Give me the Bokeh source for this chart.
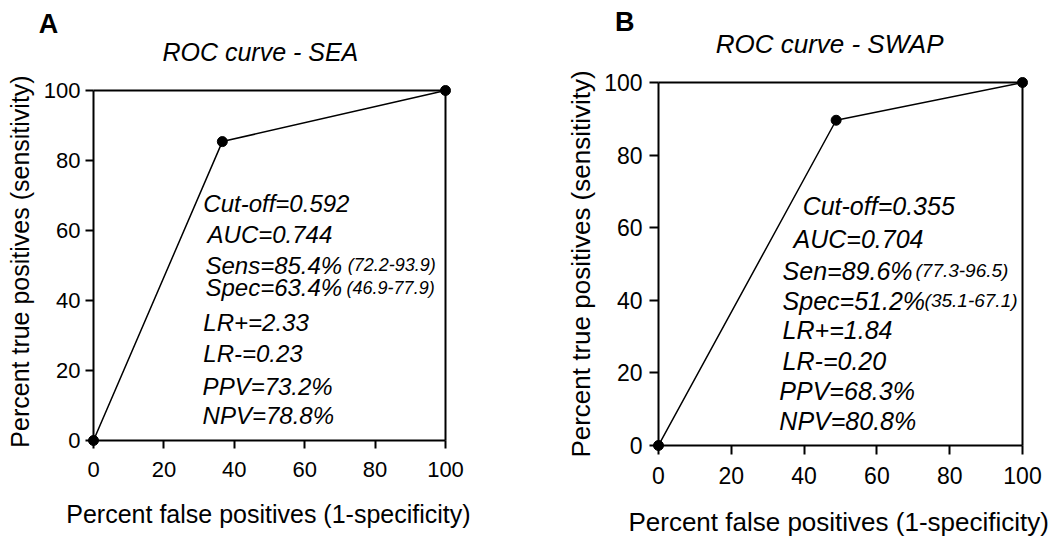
from bokeh.plotting import figure
from bokeh.layouts import row, column
from bokeh.models import Range1d, FixedTicker
from bokeh.core.properties import value
from bokeh.embed import file_html
from bokeh.resources import INLINE

FONT = "Liberation Sans"

# ---------------- data ----------------
ticks = [0, 20, 40, 60, 80, 100]

sea_fpr = [0, 36.6, 100]
sea_tpr = [0, 85.4, 100]
sea_stats = ["Cut-off=0.592", "AUC=0.744", "Sens=85.4%", "Spec=63.4%",
             "LR+=2.33", "LR-=0.23", "PPV=73.2%", "NPV=78.8%"]
sea_ci = ["(72.2-93.9)", "(46.9-77.9)"]

swap_fpr = [0, 48.8, 100]
swap_tpr = [0, 89.6, 100]
swap_stats = ["Cut-off=0.355", "AUC=0.704", "Sen=89.6%", "Spec=51.2%",
              "LR+=1.84", "LR-=0.20", "PPV=68.3%", "NPV=80.8%"]
swap_ci = ["(77.3-96.5)", "(35.1-67.1)"]

x_label = "Percent false positives (1-specificity)"
y_label = "Percent true positives (sensitivity)"

# ---------------- layout (positions in data units) ----------------
sea_text_x = [31.2, 32.4, 31.8, 31.8, 31.2, 31.2, 31.0, 31.0]
sea_text_y = [67.7, 58.9, 50.1, 43.6, 33.6, 24.9, 15.4, 7.1]
sea_ci_x = [72.2, 71.9]
sea_ci_y = [50.1, 43.6]
sea_xlabel_pos = (49.7, -20.9)

swap_text_x = [39.6, 37.1, 34.1, 34.1, 34.1, 34.1, 33.2, 33.2]
swap_text_y = [65.9, 56.9, 48.1, 39.9, 31.9, 23.2, 14.9, 6.7]
swap_ci_x = [70.6, 73.1]
swap_ci_y = [48.1, 39.9]
swap_xlabel_pos = (49.5, -21.2)

FRAME_TOP = 82
BOTTOM_BORDER = 91


def make_panel(fpr, tpr, stats, ci, tx, ty, cx, cy, title, letter,
               title_pos, letter_pos, xlabel_pos, width, left, right, y100_px, y0_px,
               sizes, tick_len, standoffs):
    stat_size, ci_size, tick_size, label_size, title_size = sizes
    xl_std, yl_std, ya_std = standoffs
    ppu = (y0_px - y100_px) / 100.0
    y_hi = ticks[-1] + (y100_px - FRAME_TOP) / ppu

    p = figure(width=width, height=y0_px + BOTTOM_BORDER,
               x_range=Range1d(ticks[0], ticks[-1]), y_range=Range1d(ticks[0], y_hi),
               output_backend="svg", toolbar_location=None,
               min_border_left=left, min_border_right=right,
               min_border_top=FRAME_TOP, min_border_bottom=BOTTOM_BORDER)
    p.grid.visible = False
    p.outline_line_color = None
    p.background_fill_color = "white"
    p.border_fill_color = "white"

    for ax in (p.xaxis, p.yaxis):
        ax.ticker = FixedTicker(ticks=ticks)
        ax.bounds = (ticks[0], ticks[-1])
        ax.major_tick_out = tick_len
        ax.major_tick_in = 0
        ax.minor_tick_line_color = None
        ax.axis_line_width = 2
        ax.axis_line_color = "black"
        ax.major_tick_line_width = 2
        ax.major_tick_line_color = "black"
        ax.major_label_text_font = FONT
        ax.major_label_text_font_size = tick_size
        ax.major_label_text_color = "black"
        ax.axis_label_text_font = FONT
        ax.axis_label_text_font_size = label_size
        ax.axis_label_text_font_style = "normal"
        ax.axis_label_text_color = "black"
    p.yaxis.axis_label = y_label
    p.xaxis.major_label_standoff = xl_std
    p.yaxis.major_label_standoff = yl_std
    p.yaxis.axis_label_standoff = ya_std

    # x-axis title drawn as text so it does not enlarge the bottom border
    xl = p.text(x=[xlabel_pos[0]], y=[xlabel_pos[1]], text=[x_label], text_font=value(FONT),
                text_font_size=label_size, text_baseline="middle", text_align="center",
                text_color="black")
    xl.level = "overlay"

    # top and right edges of the box
    box = p.line([ticks[0], ticks[-1], ticks[-1]], [ticks[-1], ticks[-1], ticks[0]],
                 line_width=2, line_color="black")
    box.level = "overlay"

    p.line(fpr, tpr, line_width=1.5, line_color="black")
    pts = p.scatter(fpr, tpr, size=10, fill_color="black", line_color="black")
    pts.level = "overlay"

    p.text(x=tx, y=ty, text=stats, text_font=value(FONT),
           text_font_style="italic", text_font_size=stat_size,
           text_baseline="middle", text_align="left", text_color="black")
    p.text(x=cx, y=cy, text=ci, text_font=value(FONT),
           text_font_style="italic", text_font_size=ci_size,
           text_baseline="middle", text_align="left", text_color="black")

    t = p.text(x=[title_pos[0]], y=[title_pos[1]], text=[title], text_font=value(FONT),
               text_font_style="italic", text_font_size=title_size,
               text_baseline="middle", text_align="center", text_color="black")
    t.level = "overlay"
    lt = p.text(x=[letter_pos[0]], y=[letter_pos[1]], text=[letter], text_font=value(FONT),
                text_font_style="bold", text_font_size="27px",
                text_baseline="middle", text_align="center", text_color="black")
    lt.level = "overlay"
    return p


p1 = make_panel(sea_fpr, sea_tpr, sea_stats, sea_ci,
                sea_text_x, sea_text_y, sea_ci_x, sea_ci_y,
                "ROC curve - SEA", "A", (47.4, 111.1), (-12.8, 119.1), sea_xlabel_pos,
                548, 93, 103, 90, 440,
                ("24px", "18px", "22px", "25px", "25px"), 8, (13, 5, 7))
p2 = make_panel(swap_fpr, swap_tpr, swap_stats, swap_ci,
                swap_text_x, swap_text_y, swap_ci_x, swap_ci_y,
                "ROC curve - SWAP", "B", (47.0, 110.7), (-9.3, 116.8), swap_xlabel_pos,
                505, 110, 31, 82, 445,
                ("25px", "19px", "23px", "26px", "26px"), 9, (12, 7, 5))

layout = row(column(p1), column(p2))
open("out.html", "w").write(file_html(layout, INLINE))
